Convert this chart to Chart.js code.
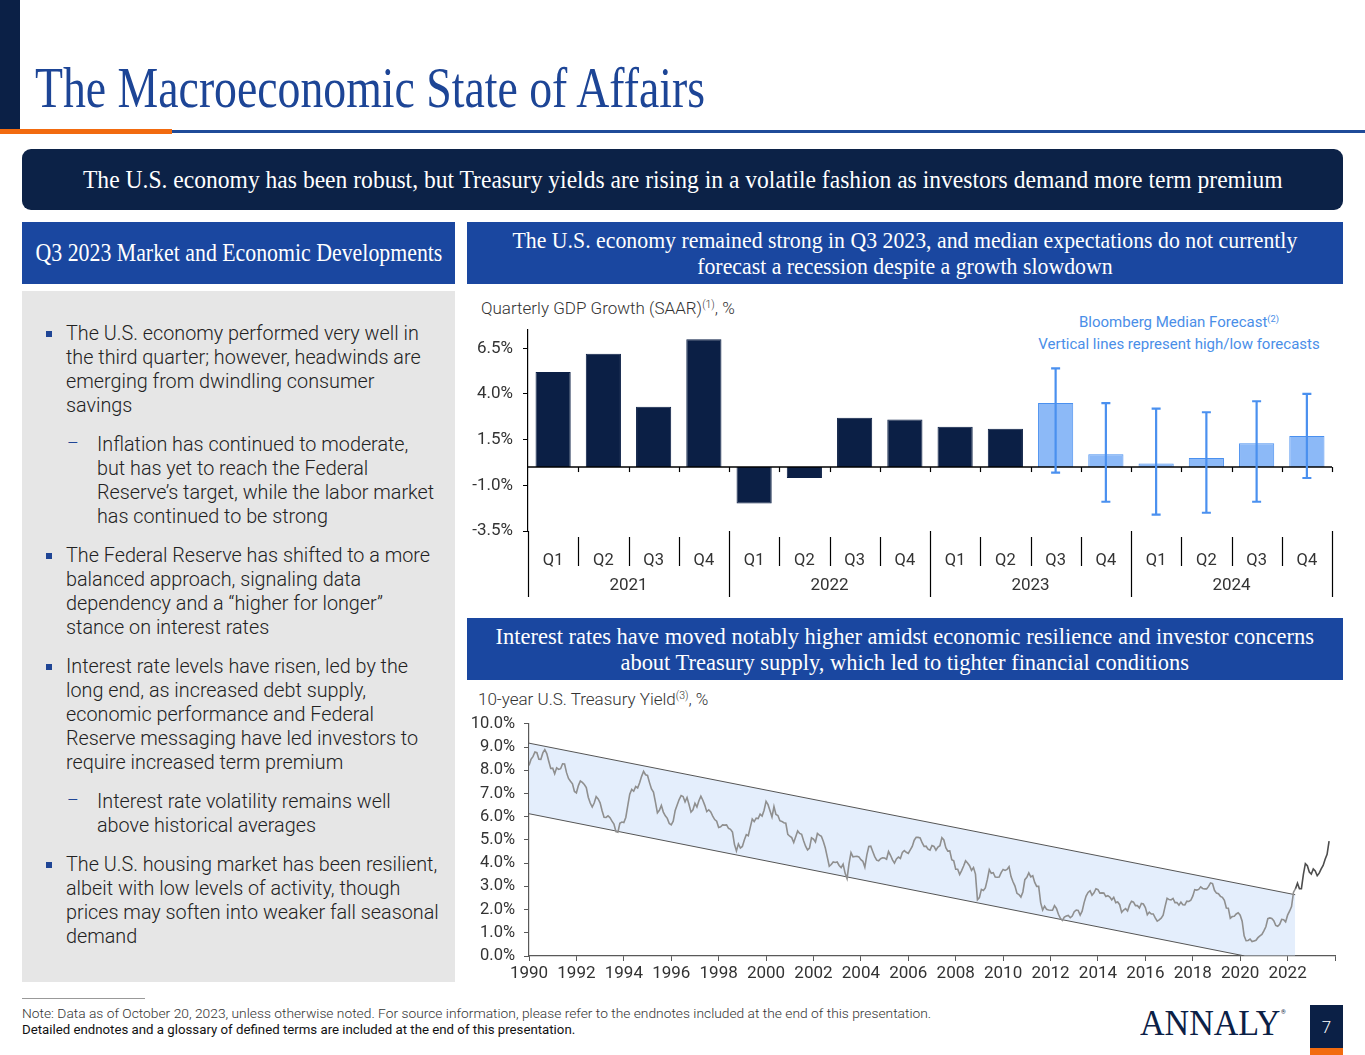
<!DOCTYPE html>
<html>
<head>
<meta charset="utf-8">
<script src="https://cdn.jsdelivr.net/npm/chart.js@4.4.0/dist/chart.umd.min.js"></script>
<style>
  html,body{margin:0;padding:0;background:#fff;}
  body{width:1365px;height:1055px;position:relative;overflow:hidden;font-family:Roboto,"Noto Sans",sans-serif;}
  .abs{position:absolute;}
  .serif{font-family:"Liberation Serif","DejaVu Serif",serif;}
  .box{position:absolute;display:flex;align-items:center;justify-content:center;text-align:center;color:#fff;}
  .fit{display:inline-block;white-space:nowrap;transform-origin:center center;}
  .para{position:absolute;left:66px;font-size:19.8px;line-height:24px;font-weight:300;color:#222;white-space:nowrap;}
  .sub{left:97px;}
  .sq{position:absolute;width:6px;height:6px;background:#1f4595;left:46px;}
  .dash{position:absolute;left:67px;color:#1f4595;font-size:18px;font-weight:300;}
  sup{font-size:0.62em;vertical-align:0;position:relative;top:-0.55em;}
</style>
</head>
<body>
<!-- header decoration -->
<div class="abs" style="left:0;top:0;width:20px;height:129px;background:#0b2046;"></div>
<div class="abs" style="left:0;top:129px;width:172px;height:5px;background:#f26b0f;"></div>
<div class="abs" style="left:172px;top:130px;width:1193px;height:3px;background:#1f4b99;"></div>
<div class="abs serif" style="left:35px;top:60px;font-size:56px;line-height:56px;color:#1d4596;white-space:nowrap;"><span id="title" style="display:inline-block;transform-origin:left center;">The Macroeconomic State of Affairs</span></div>

<!-- banner -->
<div class="box serif" style="left:22px;top:149px;width:1321px;height:61px;background:#0c2247;border-radius:9px;font-size:26px;">
  <span class="fit" id="banner">The U.S. economy has been robust, but Treasury yields are rising in a volatile fashion as investors demand more term premium</span>
</div>

<!-- section headers -->
<div class="box serif" style="left:22px;top:222px;width:433px;height:62px;background:#1a47a0;font-size:25px;">
  <span class="fit" id="hdrL">Q3 2023 Market and Economic Developments</span>
</div>
<div class="box serif" style="left:467px;top:222px;width:876px;height:62px;background:#1a47a0;font-size:23.5px;line-height:26px;">
  <span class="fit" id="hdrR1">The U.S. economy remained strong in Q3 2023, and median expectations do not currently<br>forecast a recession despite a growth slowdown</span>
</div>
<div class="box serif" style="left:467px;top:618px;width:876px;height:62px;background:#1a47a0;font-size:23.5px;line-height:26px;">
  <span class="fit" id="hdrR2">Interest rates have moved notably higher amidst economic resilience and investor concerns<br>about Treasury supply, which led to tighter financial conditions</span>
</div>

<!-- left panel -->
<div class="abs" style="left:22px;top:291px;width:433px;height:691px;background:#e6e6e6;"></div>
<div class="sq" style="top:331px;"></div>
<div class="para" style="top:322px;">The U.S. economy performed very well in<br>the third quarter; however, headwinds are<br>emerging from dwindling consumer<br>savings</div>
<div class="dash" style="top:432px;">–</div>
<div class="para sub" style="top:433px;">Inflation has continued to moderate,<br>but has yet to reach the Federal<br>Reserve’s target, while the labor market<br>has continued to be strong</div>
<div class="sq" style="top:553px;"></div>
<div class="para" style="top:544px;">The Federal Reserve has shifted to a more<br>balanced approach, signaling data<br>dependency and a “higher for longer”<br>stance on interest rates</div>
<div class="sq" style="top:664px;"></div>
<div class="para" style="top:655px;">Interest rate levels have risen, led by the<br>long end, as increased debt supply,<br>economic performance and Federal<br>Reserve messaging have led investors to<br>require increased term premium</div>
<div class="dash" style="top:789px;">–</div>
<div class="para sub" style="top:790px;">Interest rate volatility remains well<br>above historical averages</div>
<div class="sq" style="top:862px;"></div>
<div class="para" style="top:853px;">The U.S. housing market has been resilient,<br>albeit with low levels of activity, though<br>prices may soften into weaker fall seasonal<br>demand</div>

<!-- chart titles -->
<div class="abs" style="left:481px;top:298px;font-size:17px;font-weight:300;color:#333;white-space:nowrap;">Quarterly GDP Growth (SAAR)<sup>(1)</sup>, %</div>
<div class="abs" style="left:1020px;top:312px;width:318px;text-align:center;font-size:15px;line-height:20px;color:#4a8ee8;white-space:nowrap;">Bloomberg Median Forecast<sup>(2)</sup><br>Vertical lines represent high/low forecasts</div>
<div class="abs" style="left:478px;top:689px;font-size:17px;font-weight:300;color:#333;white-space:nowrap;">10-year U.S. Treasury Yield<sup>(3)</sup>, %</div>

<canvas id="gdp" class="abs" width="905" height="310" style="left:440px;top:300px;"></canvas>
<canvas id="ust" class="abs" width="905" height="290" style="left:440px;top:705px;"></canvas>

<!-- footer -->
<div class="abs" style="left:22px;top:998px;width:123px;height:1px;background:#999;"></div>
<div class="abs" style="left:22px;top:1006px;font-size:13px;line-height:16px;color:#333;font-weight:300;white-space:nowrap;"><span id="note1" style="display:inline-block;transform-origin:left center;">Note: Data as of October 20, 2023, unless otherwise noted. For source information, please refer to the endnotes included at the end of this presentation.</span></div>
<div class="abs" style="left:22px;top:1022px;font-size:13px;line-height:16px;color:#111;white-space:nowrap;"><span id="note2" style="display:inline-block;transform-origin:left center;">Detailed endnotes and a glossary of defined terms are included at the end of this presentation.</span></div>
<div class="abs serif" style="left:1140px;top:1003px;font-size:36px;line-height:40px;color:#0b2046;white-space:nowrap;"><span id="logo" style="display:inline-block;transform-origin:left center;">ANNALY</span></div>
<div class="abs" style="left:1281px;top:1008px;font-size:6px;color:#0b2046;">®</div>
<div class="abs" style="left:1310px;top:1005px;width:33px;height:43px;background:#0b2046;color:#fff;font-size:17px;font-weight:300;display:flex;align-items:center;justify-content:center;">7</div>
<div class="abs" style="left:1310px;top:1048px;width:33px;height:7px;background:#f26b0f;"></div>

<script>
// ---------------- DATA ----------------
const quarterLabels = ['Q1','Q2','Q3','Q4','Q1','Q2','Q3','Q4','Q1','Q2','Q3','Q4','Q1','Q2','Q3','Q4'];
const yearLabels = ['2021','2022','2023','2024'];
const gdpActual = [5.2, 6.2, 3.3, 7.0, -2.0, -0.6, 2.7, 2.6, 2.2, 2.1];   // Q1 2021 .. Q2 2023
const gdpForecast = [3.5, 0.7, 0.2, 0.5, 1.3, 1.7];                      // Q3 2023 .. Q4 2024 (median)
const forecastHigh = [5.4, 3.5, 3.2, 3.0, 3.6, 4.0];
const forecastLow = [-0.3, -1.9, -2.6, -2.5, -1.9, -0.6];
const gdpTicks = [-3.5, -1.0, 1.5, 4.0, 6.5];

const yieldStartYear = 1990; // monthly observations from Jan 1990
const treasury10y = [
  8.21,8.47,8.59,8.79,8.76,8.48,8.47,8.75,8.89,8.72,8.39,8.08, // 1990
  8.09,7.85,8.11,8.04,8.07,8.28,8.27,7.90,7.65,7.53,7.42,7.09, // 1991
  7.03,7.34,7.54,7.48,7.39,7.26,6.84,6.59,6.42,6.59,6.87,6.77, // 1992
  6.60,6.26,5.98,5.97,6.04,5.96,5.81,5.68,5.36,5.33,5.72,5.77, // 1993
  5.75,5.97,6.48,6.97,7.18,7.10,7.30,7.24,7.46,7.74,7.96,7.81, // 1994
  7.78,7.47,7.20,7.06,6.63,6.17,6.28,6.49,6.20,6.04,5.93,5.71, // 1995
  5.65,5.81,6.27,6.51,6.74,6.91,6.87,6.64,6.83,6.53,6.20,6.30, // 1996
  6.58,6.42,6.69,6.89,6.71,6.49,6.22,6.30,6.21,6.03,5.88,5.81, // 1997
  5.54,5.57,5.65,5.64,5.65,5.50,5.46,5.34,4.81,4.53,4.83,4.65, // 1998
  4.72,5.00,5.23,5.18,5.54,5.90,5.79,5.94,5.92,6.11,6.03,6.28, // 1999
  6.66,6.52,6.26,5.99,6.44,6.10,6.05,5.83,5.80,5.74,5.72,5.24, // 2000
  5.16,5.10,4.89,5.14,5.39,5.28,5.24,4.97,4.73,4.57,4.65,5.09, // 2001
  5.04,4.91,5.28,5.21,5.16,4.93,4.65,4.26,3.87,3.94,4.05,4.03, // 2002
  4.05,3.90,3.81,3.96,3.57,3.33,3.98,4.45,4.27,4.29,4.30,4.27, // 2003
  4.15,4.08,3.83,4.35,4.72,4.73,4.50,4.28,4.13,4.10,4.19,4.23, // 2004
  4.22,4.17,4.50,4.34,4.14,4.00,4.18,4.26,4.20,4.46,4.54,4.47, // 2005
  4.42,4.57,4.72,4.99,5.11,5.11,5.09,4.88,4.72,4.73,4.60,4.56, // 2006
  4.76,4.72,4.56,4.69,4.75,5.10,5.00,4.67,4.52,4.53,4.15,4.10, // 2007
  3.74,3.74,3.51,3.68,3.88,4.10,4.01,3.89,3.69,3.81,3.53,2.42, // 2008
  2.52,2.87,2.82,2.93,3.29,3.72,3.56,3.59,3.40,3.39,3.40,3.59, // 2009
  3.73,3.69,3.73,3.85,3.42,3.20,3.01,2.70,2.65,2.54,2.76,3.29, // 2010
  3.39,3.58,3.41,3.46,3.17,3.00,3.00,2.30,1.98,2.15,2.01,1.98, // 2011
  1.97,1.97,2.17,2.05,1.80,1.62,1.53,1.68,1.72,1.75,1.65,1.72, // 2012
  1.91,1.98,1.96,1.76,1.93,2.30,2.58,2.74,2.81,2.62,2.72,2.90, // 2013
  2.86,2.71,2.72,2.71,2.56,2.60,2.54,2.42,2.53,2.30,2.33,2.21, // 2014
  1.88,1.98,2.04,1.94,2.20,2.36,2.32,2.17,2.17,2.07,2.26,2.24, // 2015
  2.09,1.78,1.89,1.81,1.81,1.64,1.50,1.56,1.63,1.76,2.14,2.49, // 2016
  2.43,2.42,2.48,2.30,2.30,2.19,2.32,2.21,2.20,2.36,2.35,2.40, // 2017
  2.58,2.86,2.84,2.87,2.98,2.91,2.89,2.89,3.00,3.15,3.12,2.83, // 2018
  2.71,2.68,2.57,2.53,2.40,2.07,2.06,1.63,1.70,1.71,1.81,1.86, // 2019
  1.76,1.50,0.87,0.66,0.67,0.73,0.62,0.65,0.68,0.79,0.87,0.93, // 2020
  1.08,1.26,1.61,1.64,1.62,1.52,1.32,1.28,1.37,1.58,1.56,1.47, // 2021
  1.76,1.93,2.13,2.75,2.90,3.14,2.90,2.90,3.52,3.98,3.89,3.62, // 2022
  3.53,3.75,3.66,3.46,3.57,3.75,3.90,4.17,4.38,4.95              // 2023 (to Oct 20)
];
const channelUpper = [{x:1990, y:9.17}, {x:2022.32, y:2.64}];
const channelLower = [{x:1990, y:6.13}, {x:2020.2, y:0}, {x:2022.32, y:0}];
const channelEnd = 2022.32;
const yieldTicks = [0,1,2,3,4,5,6,7,8,9,10];

// ---------------- COMMON ----------------
Chart.defaults.font.family = 'Roboto, "Noto Sans", sans-serif';
Chart.defaults.font.size = 17;
Chart.defaults.color = '#333';

// ---------------- GDP CHART ----------------
const nAct = gdpActual.length;
const gdpValues = gdpActual.concat(gdpForecast);
const barFill = gdpValues.map((v,i) => i < nAct ? '#0b1f45' : '#8cb9f7');
const barBorder = gdpValues.map((v,i) => i < nAct ? '#0b1f45' : '#4a90ef');

const gdpDecor = {
  id: 'gdpDecor',
  afterDatasetsDraw(chart) {
    const {ctx, chartArea: ca, scales: {x, y}} = chart;
    const y0 = y.getPixelForValue(0);
    const half = (x.getPixelForValue(1) - x.getPixelForValue(0)) / 2;
    ctx.save();
    ctx.strokeStyle = '#000'; ctx.lineWidth = 1.5;
    ctx.beginPath(); ctx.moveTo(ca.left, y0); ctx.lineTo(ca.right, y0); ctx.stroke();
    ctx.lineWidth = 1.2;
    const n = quarterLabels.length;
    for (let i = 0; i <= n; i++) {
      const bx = Math.round((i < n ? x.getPixelForValue(i) - half : x.getPixelForValue(n - 1) + half)) + 0.5;
      if (i > 0) { ctx.beginPath(); ctx.moveTo(bx, y0); ctx.lineTo(bx, y0 + 5); ctx.stroke(); }
      ctx.beginPath();
      if (i % 4 === 0) { ctx.moveTo(bx, ca.bottom); ctx.lineTo(bx, ca.bottom + 66); }
      else { ctx.moveTo(bx, ca.bottom + 6); ctx.lineTo(bx, ca.bottom + 35); }
      ctx.stroke();
    }
    ctx.fillStyle = '#333'; ctx.font = '17px Roboto, sans-serif';
    ctx.textAlign = 'center'; ctx.textBaseline = 'middle';
    yearLabels.forEach((yl, k) => {
      const cx = (x.getPixelForValue(k * 4) + x.getPixelForValue(k * 4 + 3)) / 2;
      ctx.fillText(yl, cx, ca.bottom + 55);
    });
    ctx.strokeStyle = '#4a90ef'; ctx.lineWidth = 2.2;
    gdpForecast.forEach((v, k) => {
      const cx = x.getPixelForValue(nAct + k);
      const yh = y.getPixelForValue(forecastHigh[k]);
      const yl = y.getPixelForValue(forecastLow[k]);
      ctx.beginPath();
      ctx.moveTo(cx, yh); ctx.lineTo(cx, yl);
      ctx.moveTo(cx - 4.5, yh); ctx.lineTo(cx + 4.5, yh);
      ctx.moveTo(cx - 4.5, yl); ctx.lineTo(cx + 4.5, yl);
      ctx.stroke();
    });
    ctx.restore();
  }
};

new Chart(document.getElementById('gdp'), {
  type: 'bar',
  data: {
    labels: quarterLabels,
    datasets: [{
      data: gdpValues,
      backgroundColor: barFill,
      borderColor: barBorder,
      borderWidth: 1,
      barPercentage: 0.7,
      categoryPercentage: 1.0
    }]
  },
  options: {
    responsive: false, animation: false,
    layout: {padding: {top: 30, right: 13, left: 0, bottom: 0}},
    plugins: {legend: {display: false}, tooltip: {enabled: false}},
    scales: {
      x: {
        grid: {display: false},
        border: {display: false},
        ticks: {padding: 12, color: '#333', font: {size: 16.5}, maxRotation: 0, autoSkip: false},
        afterFit(s) { s.height = 79; }
      },
      y: {
        min: -3.5, max: 7.5,
        afterBuildTicks(s) { s.ticks = gdpTicks.map(v => ({value: v})); },
        grid: {drawOnChartArea: false, tickLength: 5, color: '#000'},
        border: {display: true, color: '#000', width: 1.2},
        ticks: {padding: 10, color: '#333', autoSkip: false, callback: v => Number(v).toFixed(1) + '%'},
        afterFit(s) { s.width = 88; }
      }
    }
  },
  plugins: [gdpDecor]
});

// ---------------- TREASURY CHART ----------------
const yieldPoints = treasury10y.map((v, i) => ({x: yieldStartYear + i / 12, y: v}));

new Chart(document.getElementById('ust'), {
  type: 'line',
  data: {
    datasets: [
      {
        data: yieldPoints,
        borderWidth: 1.6,
        pointRadius: 0,
        tension: 0,
        fill: false,
        borderColor: '#8f8f8f',
        segment: {borderColor: c => c.p0.parsed.x >= channelEnd - 0.05 ? '#4d4d4d' : '#8f8f8f'}
      },
      {
        data: channelUpper,
        borderColor: '#555', borderWidth: 1, pointRadius: 0,
        fill: '+1', backgroundColor: 'rgba(219,232,251,0.75)'
      },
      {
        data: channelLower,
        borderColor: '#555', borderWidth: 1, pointRadius: 0, fill: false
      }
    ]
  },
  options: {
    responsive: false, animation: false,
    layout: {padding: {top: 18, right: 10, left: 0, bottom: 0}},
    plugins: {legend: {display: false}, tooltip: {enabled: false}, filler: {drawTime: 'beforeDatasetsDraw'}},
    scales: {
      x: {
        type: 'linear', min: 1990, max: 2024,
        ticks: {stepSize: 2, padding: 3, maxRotation: 0, autoSkip: false, color: '#333',
                callback: v => v === 2024 ? '' : String(v)},
        grid: {drawOnChartArea: false, tickLength: 5, color: '#595959'},
        border: {display: true, color: '#595959', width: 1.2},
        afterFit(s) { s.height = 39; }
      },
      y: {
        min: 0, max: 10,
        afterBuildTicks(s) { s.ticks = yieldTicks.map(v => ({value: v})); },
        ticks: {padding: 9, color: '#333', autoSkip: false, font: {size: 16.5}, callback: v => Number(v).toFixed(1) + '%'},
        grid: {drawOnChartArea: false, tickLength: 5, color: '#595959'},
        border: {display: true, color: '#595959', width: 1.2},
        afterFit(s) { s.width = 89; }
      }
    }
  }
});

// ---------------- TEXT FITTING ----------------
function fitW(id, w) {
  const el = document.getElementById(id);
  const s = w / el.offsetWidth;
  el.style.transform = 'scaleX(' + s + ')';
}
function fitAll() {
  fitW('title', 670);
  fitW('banner', 1200);
  fitW('hdrL', 407);
  fitW('hdrR1', 785);
  fitW('hdrR2', 819);
  fitW('logo', 140);
  fitW('note1', 909);
  fitW('note2', 553);
}
if (document.fonts && document.fonts.ready) document.fonts.ready.then(fitAll); else fitAll();
</script>
</body>
</html>
